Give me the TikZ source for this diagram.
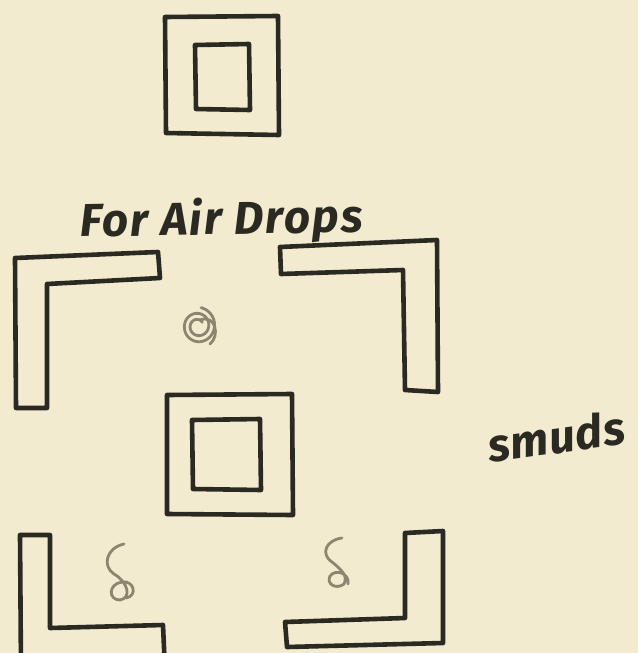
\documentclass[tikz,border=0pt]{standalone}
\usepackage{fontspec}
\newfontfamily\hand{Fira Sans}
\definecolor{paper}{HTML}{F3EBD0}
\definecolor{ink}{HTML}{2B2A22}
\definecolor{pencil}{HTML}{8C8670}
\tikzset{
  wall/.style={draw=ink, line width=4.6pt, line join=round, line cap=round},
  scribble/.style={draw=pencil, line width=2.8pt, line cap=round, line join=round},
  handtext/.style={text=ink, inner sep=0pt}
}
\begin{document}
\begin{tikzpicture}[x=1pt,y=-1pt]
\fill[paper] (0,0) rectangle (638,653);
\useasboundingbox (0,0) rectangle (638,653);
\clip (0,0) rectangle (638,653);
% top square
\draw[wall] (165,17) -- (278,16) -- (279,135) -- (166,133) -- cycle;
\draw[wall] (195,45) -- (249,44) -- (250,110) -- (196,109) -- cycle;
% label
\node[handtext, font=\hand\bfseries\itshape\fontsize{46}{46}\selectfont\addfontfeature{LetterSpace=4}, anchor=base west, rotate=1] (title) at (80,237) {For Air Drops};
% top-left L
\draw[wall] (15,258) -- (158,252) -- (160,278) -- (47,284) -- (47,408) -- (16,408) -- cycle;
% top-right L
\draw[wall] (280,247) -- (437,240) -- (438,392) -- (405,390) -- (403,270) -- (281,274) -- cycle;
% middle square
\draw[wall] (167,395) -- (292,394) -- (293,515) -- (167,514) -- cycle;
\draw[wall] (192,420) -- (260,419) -- (261,490) -- (193,489) -- cycle;
% bottom-left L
\draw[wall] (20,535) -- (50,535) -- (50,628) -- (163,625) -- (165,670) -- (21,670) -- cycle;
% bottom-right L
\draw[wall] (405,533) -- (443,531) -- (443,643) -- (287,647) -- (285,622) -- (405,618) -- cycle;
% pencil smudges
\draw[scribble] plot[domain=40:800, samples=90, smooth] ({198+(5+0.016*\x)*cos(\x)}, {326-(5+0.017*\x)*sin(\x)});
\draw[scribble] (200,320) .. controls (216,314) and (220,336) .. (210,344);
\draw[scribble] (124,544) .. controls (106,548) and (102,566) .. (114,574)
  .. controls (128,582) and (132,598) .. (120,600) .. controls (108,600) and (108,584) .. (122,582)
  .. controls (134,580) and (138,596) .. (126,598);
\draw[scribble] (342,538) .. controls (326,540) and (320,554) .. (332,562)
  .. controls (342,570) and (348,576) .. (344,584) .. controls (336,590) and (326,584) .. (330,576)
  .. controls (336,568) and (350,574) .. (348,584);
% side note
\node[handtext, font=\hand\bfseries\itshape\fontsize{46}{46}\selectfont\addfontfeature{LetterSpace=2}, anchor=base west, rotate=8] (note) at (490,463) {smuds};
\end{tikzpicture}
\end{document}
